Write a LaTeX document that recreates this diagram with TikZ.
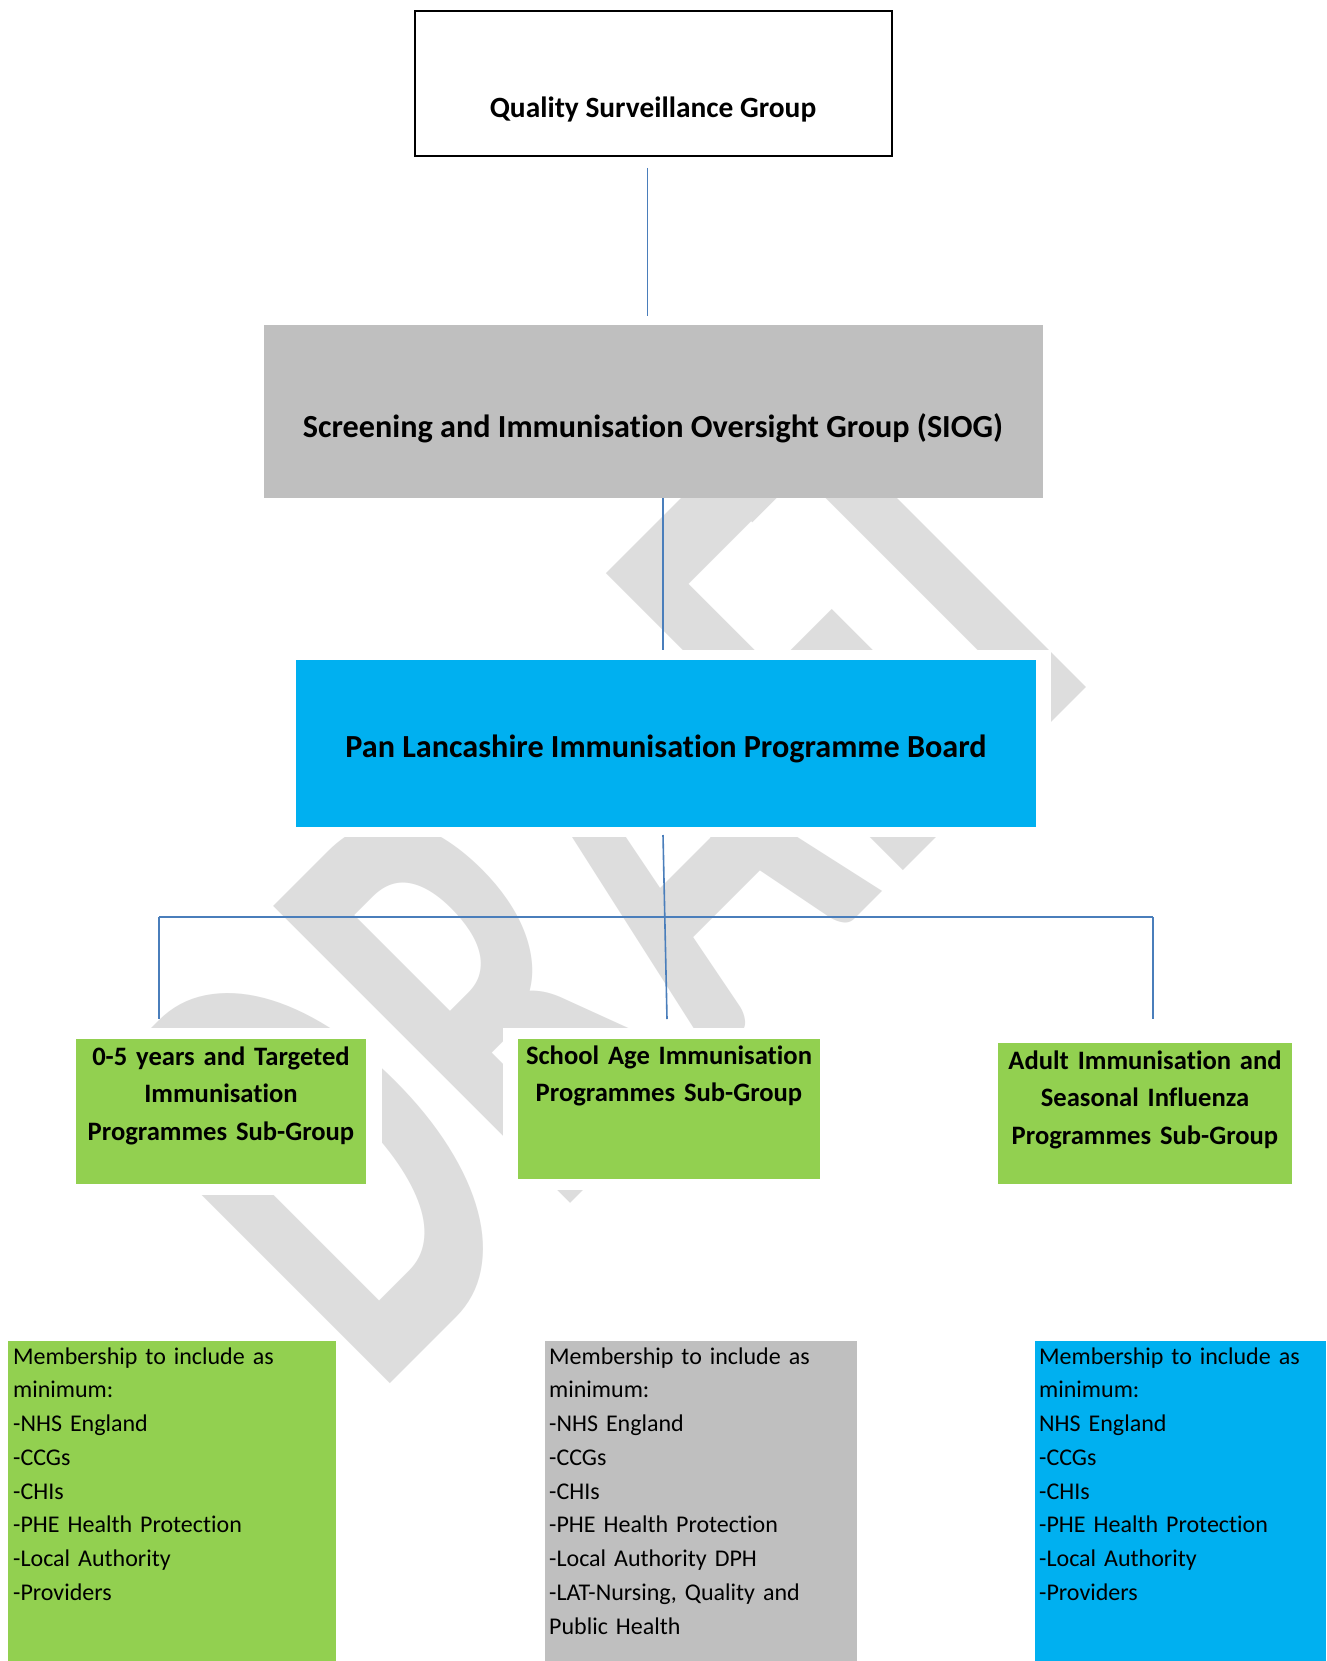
\documentclass[tikz,border=0pt]{standalone}
\usepackage{fontspec}
\setmainfont{Carlito}[Ligatures=NoCommon]
\usetikzlibrary{calc,backgrounds}

\definecolor{lineblue}{RGB}{74,126,187}
\definecolor{boxgray}{RGB}{191,191,191}
\definecolor{boxblue}{RGB}{0,176,240}
\definecolor{boxgreen}{RGB}{146,208,80}
\definecolor{markgray}{RGB}{221,221,221}

\begin{document}
\begin{tikzpicture}[x=1pt,y=1pt,
  box/.style={inner sep=0pt, outer sep=0pt, draw=none},
  conn/.style={draw=lineblue, line width=1.6pt},
  bigtext/.style={inner sep=0pt, anchor=base, font=\fontsize{32.2}{38}\selectfont\bfseries},
  subtext/.style={inner sep=0pt, anchor=base, align=center, font=\fontsize{26.6}{37.5}\selectfont\bfseries},
  membertext/.style={inner sep=0pt, anchor=base west, align=left, text width=280, font=\fontsize{24}{33.75}\selectfont},
  markletter/.style={inner sep=0pt, anchor=base west, rotate=45, yscale=1.64, text=markgray,
    font=\fontsize{395}{395}\selectfont\bfseries}]
\useasboundingbox (0,0) rectangle (1326,-1661);

% boxes of the group structure
\node[box, draw=black, line width=2pt, minimum width=477, minimum height=145] (qsg) at (653.5,-83.5) {};
\node[box, fill=boxgray, minimum width=779, minimum height=173] (siog) at (653.5,-411.5) {};
\node[box, fill=boxblue, minimum width=740, minimum height=167] (pan) at (666,-743.5) {};
\node[box, fill=boxgreen, minimum width=290, minimum height=145] (gA) at (221,-1111.5) {};
\node[box, fill=boxgreen, minimum width=302, minimum height=140] (gB) at (669,-1109) {};
\node[box, fill=boxgreen, minimum width=294, minimum height=141] (gC) at (1145,-1113.5) {};
\node[box, fill=boxgreen, minimum width=328, minimum height=320] (mA) at (172,-1501) {};
\node[box, fill=boxgray, minimum width=312, minimum height=320] (mB) at (701,-1501) {};
\node[box, fill=boxblue, minimum width=291, minimum height=320] (mC) at (1180.5,-1501) {};

% box titles
\node[bigtext, font=\fontsize{29.4}{35}\selectfont\bfseries] (qsgt) at (653,-118) {Quality Surveillance Group};
\node[bigtext] (siogt) at (653,-437) {Screening and Immunisation Oversight Group (SIOG)};
\node[bigtext] (pant) at (666,-757) {Pan Lancashire Immunisation Programme Board};
\node[subtext, text width=285] (gAt) at (221,-1065) {0-5 years and Targeted\\Immunisation\\Programmes Sub-Group};
\node[subtext, text width=295] (gBt) at (669,-1064) {School Age Immunisation\\Programmes Sub-Group};
\node[subtext, text width=290] (gCt) at (1145,-1069) {Adult Immunisation and\\Seasonal Influenza\\Programmes Sub-Group};

% membership lists
\node[membertext] (mAt) at (13,-1364) {Membership to include as\\minimum:\\-NHS England\\-CCGs\\-CHIs\\-PHE Health Protection\\-Local Authority\\-Providers};
\node[membertext] (mBt) at (549,-1364) {Membership to include as\\minimum:\\-NHS England\\-CCGs\\-CHIs\\-PHE Health Protection\\-Local Authority DPH\\-LAT-Nursing, Quality and\\Public Health};
\node[membertext] (mCt) at (1039,-1364) {Membership to include as\\minimum:\\NHS England\\-CCGs\\-CHIs\\-PHE Health Protection\\-Local Authority\\-Providers};

% connectors
\coordinate (barL) at (159,-917);
\coordinate (barR) at (1153,-917);
\draw[conn] ($(qsg.south)+(-6,-12)$) -- ($(siog.north)+(-6,9)$);
\draw[conn] ($(siog.south)+(9.5,0)$) -- ($(pan.north)+(-3,10)$);
\draw[conn] ($(pan.south)+(-3,-8)$) -- ($(gB.north)+(-2,20)$);
\draw[conn] (barL) -- (barR);
\draw[conn] (barL) -- ($(gA.north)+(-62,20)$);
\draw[conn] (barR) -- ($(gC.north)+(8,24)$);

% watermark behind everything, cut away round the boxes
\begin{pgfonlayer}{background}
  \fill[white] (0,0) rectangle (1326,-1661);
  \begin{scope}[shift={(374,-1400)}, rotate=45]
    \node[markletter] (markD) at (0,0) {D};
    \node[markletter] (markR) at (255,0) {R};
    \node[markletter] (markA) at (480,0) {A};
    \node[markletter] (markF) at (728,0) {F};
    \node[markletter] (markT) at (885,0) {T};
  \end{scope}
  \foreach \n/\dx/\dy in {pan/15/10, gA/16/11, gB/15/11, gC/15/11}
    \fill[white] ($(\n.north west)+(-\dx,\dy)$) rectangle ($(\n.south east)+(\dx,-\dy)$);
\end{pgfonlayer}
\end{tikzpicture}
\end{document}
